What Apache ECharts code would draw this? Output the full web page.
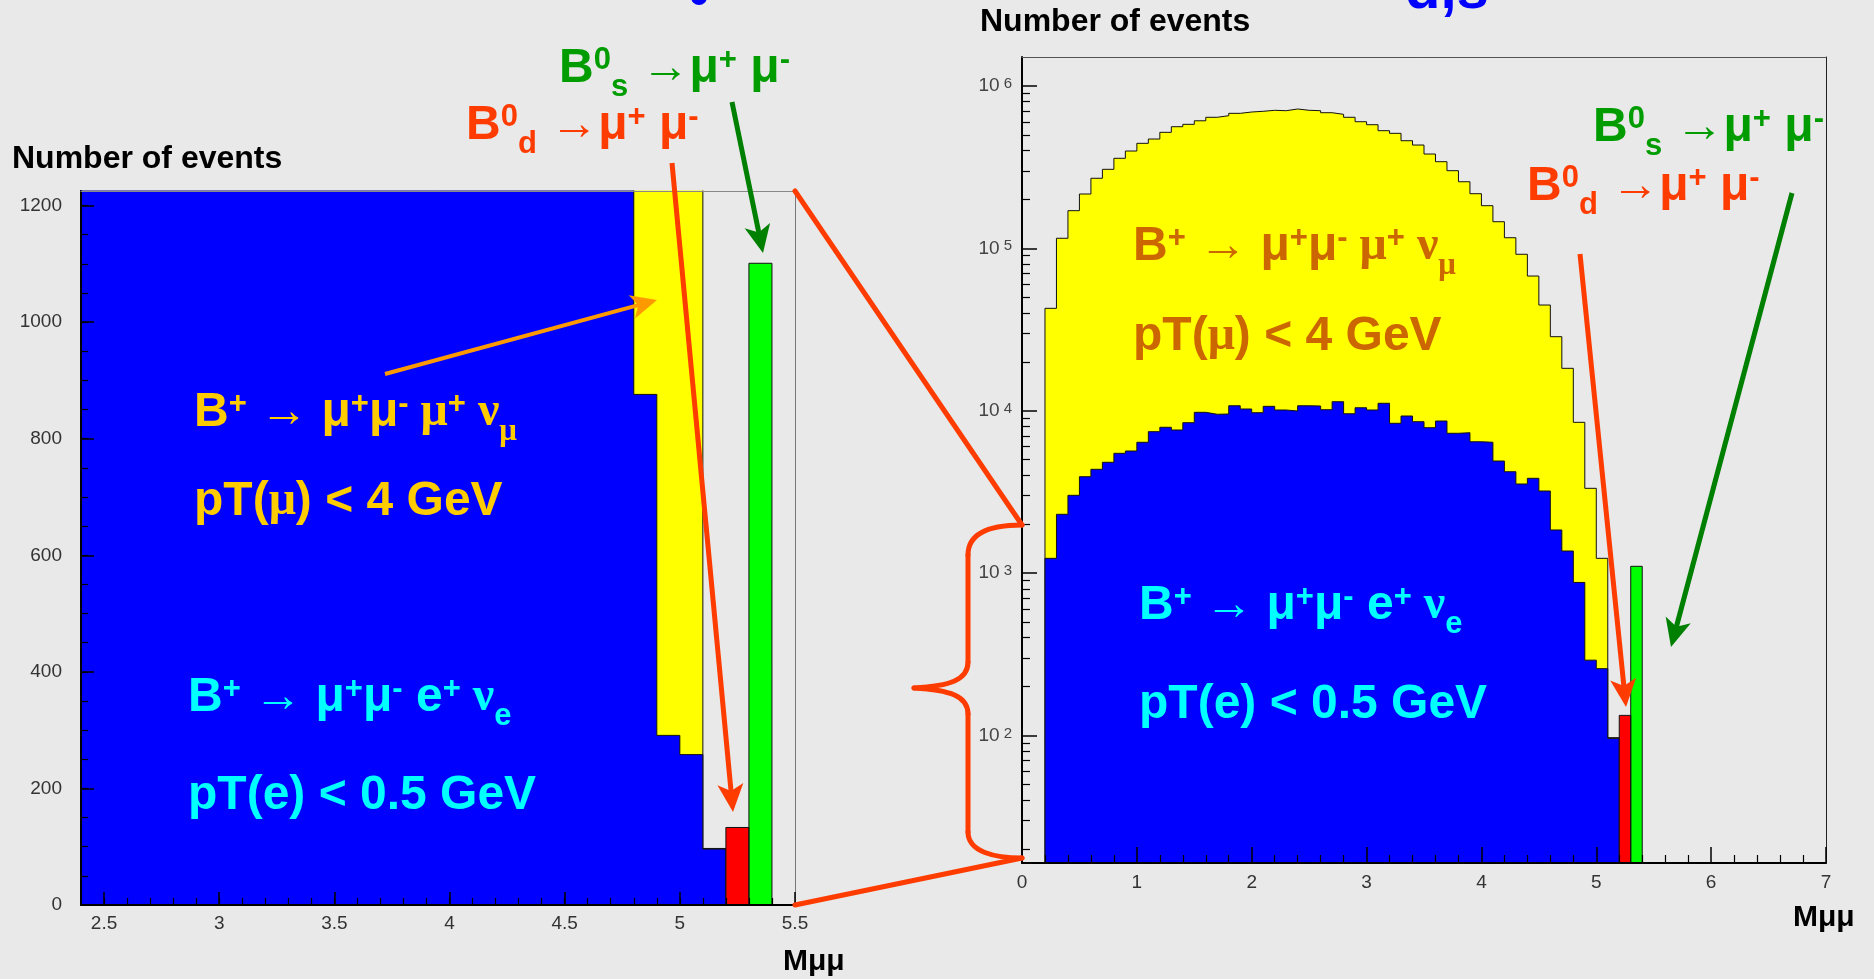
<!DOCTYPE html>
<html><head><meta charset="utf-8">
<script src="https://cdn.jsdelivr.net/npm/echarts@6/dist/echarts.min.js"></script>
<style>html,body{margin:0;padding:0;background:#e9e9e9;overflow:hidden}#c{width:1874px;height:979px;}</style>
</head><body><div id="c"></div>
<script>
// ---------------- DATA ----------------
// lower edges of the 0.1-wide Mμμ bins
const massBinLow = [0.2,0.3,0.4,0.5,0.6,0.7,0.8,0.9,1.0,1.1,1.2,1.3,1.4,1.5,1.6,1.7,1.8,1.9,2.0,2.1,
  2.2,2.3,2.4,2.5,2.6,2.7,2.8,2.9,3.0,3.1,3.2,3.3,3.4,3.5,3.6,3.7,3.8,3.9,4.0,4.1,
  4.2,4.3,4.4,4.5,4.6,4.7,4.8,4.9,5.0,5.1];
const binWidth = 0.1;
// B+ -> mu+ mu- mu+ nu (yellow)
const yellowCounts = [42700,115300,170500,216000,270000,306500,358300,397300,443200,471000,
  518000,560800,580000,610000,641000,655500,678000,690800,697800,707800,
  703700,721000,707800,703700,684000,668400,641000,602000,577000,530000,
  510700,459800,432500,380800,341500,300600,257000,216900,183000,145800,
  116200,91900,67500,44750,28560,18240,8483,3327,1233,97];
// B+ -> mu+ mu- e+ nu (blue)
const blueCounts = [1233,2302,3013,3923,4357,4813,5465,5648,6390,7430,
  7906,7606,8438,9775,9506,9544,10730,10245,9720,10640,
  10100,9960,10730,10690,10140,11360,9580,10430,10100,11110,
  8365,9277,8555,7860,8640,7260,7320,6440,6390,4900,
  4210,3538,3835,3203,1843,1368,876,291,258,96];
// B0d -> mu mu (red) and B0s -> mu mu (green)
const redBinLow = [5.2];   const redCounts = [133];
const greenBinLow = [5.3]; const greenCounts = [1101];

// tick values / labels
const leftXTicks = [2.5,3,3.5,4,4.5,5,5.5];
const leftXMinor = [2.5,2.6,2.7,2.8,2.9,3.0,3.1,3.2,3.3,3.4,3.5,3.6,3.7,3.8,3.9,4.0,4.1,4.2,4.3,4.4,4.5,4.6,4.7,4.8,4.9,5.0,5.1,5.2,5.3,5.4];
const leftYTicks = [0,200,400,600,800,1000,1200];
const leftYMinor = [50,100,150,200,250,300,350,400,450,500,550,600,650,700,750,800,850,900,950,1000,1050,1100,1150,1200];
const rightXTicks = [0,1,2,3,4,5,6,7];
const rightXMinor = [0.2,0.4,0.6,0.8,1.2,1.4,1.6,1.8,2.2,2.4,2.6,2.8,3.2,3.4,3.6,3.8,4.2,4.4,4.6,4.8,5.2,5.4,5.6,5.8,6.2,6.4,6.6,6.8];
const rightYTicks = [1e2,1e3,1e4,1e5,1e6];
const rightYMinor = [20,30,40,50,60,70,80,90,200,300,400,500,600,700,800,900,
  2000,3000,4000,5000,6000,7000,8000,9000,20000,30000,40000,50000,60000,70000,80000,90000,
  200000,300000,400000,500000,600000,700000,800000,900000];

// ---------------- STYLE ----------------
const SANS = '"Liberation Sans", Arial, Helvetica, sans-serif';
const SERIF = '"Liberation Serif", "DejaVu Serif", serif';
const RED = '#ff3c00', GREEN_T = '#009c00', GREEN_A = '#008000', GOLD = '#ffcc00',
      ORANGE_A = '#ff9900', ORANGE_T = '#cc6600', CYAN = '#00ffff';
const tickLabel = {fontSize: 19, color: '#333', fontFamily: SANS, formatter: function (v) { return String(v); }};

function steps(low, counts, w, base) {
  const pts = [[low[0], base]];
  for (let i = 0; i < low.length; i++) pts.push([low[i], counts[i]]);
  const end = +(low[low.length - 1] + w).toFixed(4);
  pts.push([end, counts[counts.length - 1]]);
  pts.push([end, base]);
  return pts;
}
function hist(xi, yi, low, counts, base, fill, z) {
  return {type: 'line', xAxisIndex: xi, yAxisIndex: yi, data: steps(low, counts, binWidth, base),
    step: 'end', symbol: 'none', showSymbol: false, clip: true, z: z, silent: true,
    emphasis: {disabled: true}, animation: false,
    lineStyle: {color: '#111', width: 1},
    areaStyle: {color: fill, opacity: 1, origin: 'start'}};
}
function xMajor(g, min, max, ticks, len, margin) {
  return {gridIndex: g, type: 'value', min, max, position: 'bottom', z: 6,
    axisLine: {show: true, onZero: false, lineStyle: {color: '#000', width: 2}},
    axisTick: {show: true, inside: true, length: len, customValues: ticks, lineStyle: {color: '#000', width: 1.5}},
    axisLabel: Object.assign({show: true, customValues: ticks, margin: margin}, tickLabel),
    splitLine: {show: false}};
}
function minorAx(g, type, min, max, pos, ticks, len) {
  return {gridIndex: g, type, min, max, position: pos, z: 6,
    axisLine: {show: false, onZero: false},
    axisTick: {show: true, inside: true, length: len, customValues: ticks, lineStyle: {color: '#000', width: 1.2}},
    axisLabel: {show: false}, splitLine: {show: false}};
}
function frameAx(g, type, min, max, pos, color) {
  return {gridIndex: g, type, min, max, position: pos, z: 6,
    axisLine: {show: true, onZero: false, lineStyle: {color: color, width: 1}},
    axisTick: {show: false}, axisLabel: {show: false}, splitLine: {show: false}};
}

const LOGMIN = 16.4, LOGMAX = 1.507e6;

const xAxis = [
  xMajor(0, 2.4, 5.5, leftXTicks, 13, 9),
  minorAx(0, 'value', 2.4, 5.5, 'bottom', leftXMinor, 7),
  frameAx(0, 'value', 2.4, 5.5, 'top', '#888'),
  xMajor(1, 0, 7, rightXTicks, 16, 10),
  minorAx(1, 'value', 0, 7, 'bottom', rightXMinor, 8),
  frameAx(1, 'value', 0, 7, 'top', '#555')
];
const yAxis = [
  {gridIndex: 0, type: 'value', min: 0, max: 1225, position: 'left', z: 6,
    axisLine: {show: true, onZero: false, lineStyle: {color: '#000', width: 2}},
    axisTick: {show: true, inside: true, length: 13, customValues: leftYTicks, lineStyle: {color: '#000', width: 1.5}},
    axisLabel: Object.assign({show: true, customValues: leftYTicks, margin: 19}, tickLabel),
    splitLine: {show: false}},
  minorAx(0, 'value', 0, 1225, 'left', leftYMinor, 7),
  frameAx(0, 'value', 0, 1225, 'right', '#777'),
  {gridIndex: 1, type: 'log', logBase: 10, min: LOGMIN, max: LOGMAX, position: 'left', z: 6,
    axisLine: {show: true, onZero: false, lineStyle: {color: '#000', width: 2}},
    axisTick: {show: true, inside: true, length: 15, customValues: rightYTicks, lineStyle: {color: '#000', width: 1.5}},
    axisLabel: {show: true, customValues: rightYTicks, margin: 10,
      formatter: function (v) { return '{b|10}{s|' + Math.round(Math.log10(v)) + '}'; },
      rich: {b: {fontSize: 19, color: '#444', fontFamily: SANS},
             s: {fontSize: 15, color: '#444', fontFamily: SANS, verticalAlign: 'top', padding: [0, 0, 0, 4]}}},
    splitLine: {show: false}},
  minorAx(1, 'log', LOGMIN, LOGMAX, 'left', rightYMinor, 8),
  frameAx(1, 'log', LOGMIN, LOGMAX, 'right', '#222')
];

const series = [
  hist(0, 0, massBinLow, yellowCounts, 0, '#ffff00', 2),
  hist(0, 0, massBinLow, blueCounts, 0, '#0000ff', 3),
  hist(0, 0, redBinLow, redCounts, 0, '#ff0000', 4),
  hist(0, 0, greenBinLow, greenCounts, 0, '#00ff00', 4),
  hist(3, 3, massBinLow, yellowCounts, 1, '#ffff00', 2),
  hist(3, 3, massBinLow, blueCounts, 1, '#0000ff', 3),
  hist(3, 3, redBinLow, redCounts, 1, '#ff0000', 4),
  hist(3, 3, greenBinLow, greenCounts, 1, '#00ff00', 4)
];

// ---------------- ANNOTATIONS ----------------
const RICH = {
  n:    {fontSize: 48, fontWeight: 'bold', fontFamily: SANS, lineHeight: 68},
  ns:   {fontSize: 48, fontWeight: 'bold', fontFamily: SERIF, lineHeight: 68},
  sup:  {fontSize: 31, fontWeight: 'bold', fontFamily: SANS, verticalAlign: 'top', padding: [10, 0, 0, 0]},
  sub:  {fontSize: 31, fontWeight: 'bold', fontFamily: SANS, verticalAlign: 'bottom'},
  subs: {fontSize: 31, fontWeight: 'bold', fontFamily: SERIF, verticalAlign: 'bottom'}
};
function rt(parts) { return parts.map(p => '{' + p[1] + '|' + p[0] + '}').join(''); }
function label(x, y, parts, color) {
  return {type: 'text', x: x, y: y, z: 100,
    style: {text: rt(parts), fill: color, rich: RICH, align: 'left', verticalAlign: 'middle'}};
}
function plain(x, y, text, color, size, va) {
  return {type: 'text', x: x, y: y, z: 100,
    style: {text: text, fill: color, font: 'bold ' + size + 'px ' + SANS, align: 'left', verticalAlign: va || 'middle'}};
}
function arrow(x1, y1, x2, y2, color, w, hl, hw) {
  const dx = x2 - x1, dy = y2 - y1, L = Math.hypot(dx, dy), ux = dx / L, uy = dy / L;
  const bx = x2 - ux * hl, by = y2 - uy * hl, px = -uy, py = ux;
  return [
    {type: 'line', z: 90, shape: {x1: x1, y1: y1, x2: x2 - ux * hl * 0.6, y2: y2 - uy * hl * 0.6},
      style: {stroke: color, lineWidth: w}},
    {type: 'polygon', z: 90, shape: {points: [[x2, y2], [bx + px * hw / 2, by + py * hw / 2],
      [x2 - ux * hl * 0.75, y2 - uy * hl * 0.75], [bx - px * hw / 2, by - py * hw / 2]]},
      style: {fill: color}}
  ];
}
function seg(x1, y1, x2, y2) {
  return {type: 'line', z: 80, shape: {x1, y1, x2, y2}, style: {stroke: RED, lineWidth: 5, lineCap: 'round'}};
}
function curve(x1, y1, cpx1, cpy1, cpx2, cpy2, x2, y2) {
  return {type: 'bezierCurve', z: 80, shape: {x1, y1, cpx1, cpy1, cpx2, cpy2, x2, y2},
    style: {stroke: RED, lineWidth: 5, fill: null, lineCap: 'round'}};
}
const B0S = [['B','n'],['0','sup'],['s','sub'],[' →μ','n'],['+','sup'],[' μ','n'],['-','sup']];
const B0D = [['B','n'],['0','sup'],['d','sub'],[' →μ','n'],['+','sup'],[' μ','n'],['-','sup']];
const BMU = [['B','n'],['+','sup'],[' → ','n'],['μ','n'],['+','sup'],['μ','n'],['-','sup'],[' μ','ns'],['+','sup'],[' ν','ns'],['μ','subs']];
const BE  = [['B','n'],['+','sup'],[' → ','n'],['μ','n'],['+','sup'],['μ','n'],['-','sup'],[' e','n'],['+','sup'],[' ν','ns'],['e','sub']];
const PTMU = [['pT(','n'],['μ','ns'],[') < 4 GeV','n']];
const PTE  = [['pT(e) < 0.5 GeV','n']];

let graphic = [
  // cut-off title remnants
  {type: 'circle', z: 100, shape: {cx: 699, cy: -3, r: 8}, style: {fill: '#0000ff'}},
  plain(1405, 21, 'd,s', '#0000ff', 58, 'bottom'),
  plain(12, 159, 'Number of events', '#000', 32),
  plain(980, 22, 'Number of events', '#000', 32),
  plain(783, 962, 'Mμμ', '#000', 30),
  plain(1793, 918, 'Mμμ', '#000', 30),
  label(559, 69, B0S, GREEN_T),
  label(466, 126, B0D, RED),
  label(194, 413, BMU, GOLD),
  label(194, 502, PTMU, GOLD),
  label(188, 698, BE, CYAN),
  label(188, 796, PTE, CYAN),
  label(1593, 128, B0S, GREEN_T),
  label(1527, 187, B0D, RED),
  label(1133, 247, BMU, ORANGE_T),
  label(1133, 337, PTMU, ORANGE_T),
  label(1139, 606, BE, CYAN),
  label(1139, 705, PTE, CYAN),
  // zoom connectors and brace
  seg(795, 191, 1022, 525),
  seg(795, 905, 1022, 858),
  curve(1022, 525, 995, 525, 968, 530, 968, 555),
  seg(968, 555, 968, 662),
  curve(968, 662, 968, 680, 950, 686, 914, 688),
  curve(914, 688, 950, 690, 968, 696, 968, 714),
  seg(968, 714, 968, 832),
  curve(968, 832, 968, 852, 995, 858, 1022, 858)
];
graphic = graphic
  .concat(arrow(385, 374, 657, 300, ORANGE_A, 4, 26, 24))
  .concat(arrow(672, 163, 733, 812, RED, 5, 28, 26))
  .concat(arrow(732, 102, 763, 253, GREEN_A, 5, 28, 26))
  .concat(arrow(1580, 254, 1626, 707, RED, 5, 28, 26))
  .concat(arrow(1792, 193, 1671, 647, GREEN_A, 5, 28, 26));

const chart = echarts.init(document.getElementById('c'), null, {renderer: 'canvas', width: 1874, height: 979});
chart.setOption({
  backgroundColor: '#e9e9e9',
  animation: false,
  grid: [
    {left: 81, top: 191, width: 714, height: 714, containLabel: false, outerBoundsMode: 'none', show: false},
    {left: 1022, top: 57, width: 804, height: 806, containLabel: false, outerBoundsMode: 'none', show: false}
  ],
  xAxis: xAxis,
  yAxis: yAxis,
  series: series,
  graphic: graphic
});
</script></body></html>
